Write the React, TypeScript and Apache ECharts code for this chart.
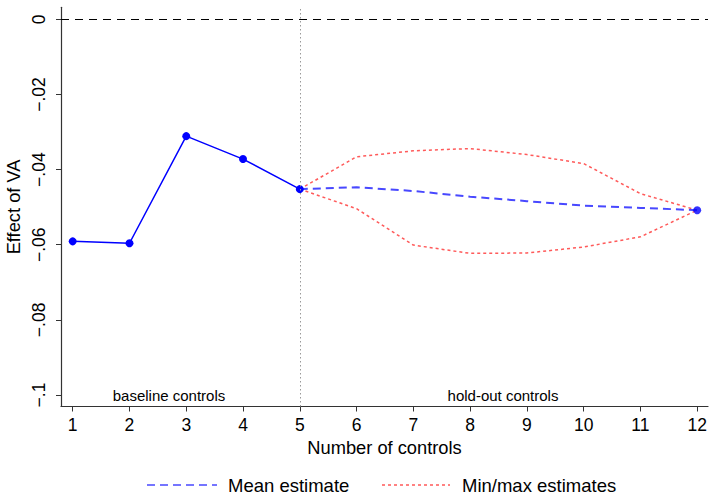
import React, { useEffect, useRef } from "react";
import * as echarts from "echarts";

const xTicks = [1, 2, 3, 4, 5, 6, 7, 8, 9, 10, 11, 12];
const yTicks = [0, -0.02, -0.04, -0.06, -0.08, -0.1];

const baselineX = [1, 2, 3, 4, 5];
const baselineY = [-0.0591, -0.0596, -0.0311, -0.0372, -0.0452];

const holdoutX = [5, 6, 7, 8, 9, 10, 11, 12];
const meanY = [-0.0452, -0.0447, -0.0457, -0.0472, -0.0484, -0.0496, -0.0502, -0.0508];
const maxY = [-0.0452, -0.0366, -0.035, -0.0344, -0.036, -0.0384, -0.0464, -0.0508];
const minY = [-0.0452, -0.0504, -0.0601, -0.0623, -0.0622, -0.0606, -0.0579, -0.0508];

const FONT = "Liberation Sans, Arial, sans-serif";

function pairs(xs: number[], ys: number[]) {
  return xs.map((x, i) => [x, ys[i]]);
}

function fmtY(v: number) {
  if (Math.abs(v) < 1e-12) return "0";
  const s = String(Math.round(Math.abs(v) * 1000) / 1000).replace(/^0/, "");
  return (v < 0 ? "\u2212" : "") + s;
}

export default function App() {
  const ref = useRef<HTMLDivElement>(null);
  useEffect(() => {
    document.body.style.margin = "0";
    if (!ref.current) return;
    const chart = echarts.init(ref.current, null, { renderer: "svg" });
    const blue = "#0000ff";
    const meanBlue = "#4848ff";
    const red = "#ff5a5a";
    chart.setOption({
      animation: false,
      backgroundColor: "#ffffff",
      textStyle: { fontFamily: FONT },
      grid: { left: 61, right: 2, top: 7.3, bottom: 87.5, containLabel: false, outerBoundsMode: "none" },
      xAxis: {
        type: "value",
        min: 0.794,
        max: 12.19,
        name: "Number of controls",
        nameLocation: "middle",
        nameGap: 31,
        nameTextStyle: { fontSize: 18.3, color: "#000", fontFamily: FONT },
        axisLine: { show: true, onZero: false, lineStyle: { color: "#333", width: 1.2 } },
        axisTick: { show: true, length: 5, lineStyle: { color: "#333" }, customValues: xTicks },
        axisLabel: {
          customValues: xTicks,
          fontSize: 17.5,
          color: "#000",
          margin: 9,
          fontFamily: FONT,
        },
        splitLine: { show: false },
      },
      yAxis: {
        type: "value",
        min: -0.10306,
        max: 0.0032,
        name: "Effect of VA",
        nameLocation: "middle",
        nameGap: 32,
        nameTextStyle: { fontSize: 18.3, color: "#000", fontFamily: FONT },
        axisLine: { show: true, onZero: false, lineStyle: { color: "#333", width: 1.2 } },
        axisTick: { show: true, length: 5, lineStyle: { color: "#333" }, customValues: yTicks },
        axisLabel: {
          customValues: yTicks,
          rotate: 90,
          fontSize: 17.5,
          color: "#000",
          margin: 13,
          fontFamily: FONT,
          formatter: (v: number) => fmtY(v),
        },
        splitLine: { show: false },
      },
      series: [
        {
          type: "line",
          data: pairs(holdoutX, maxY),
          showSymbol: false,
          lineStyle: { color: red, width: 1.5, type: [3, 3] },
          z: 2,
          markLine: {
            silent: true,
            symbol: "none",
            label: { show: false },
            data: [
              { xAxis: 5, lineStyle: { color: "#999", type: [1.5, 2.5], width: 1 } },
              { yAxis: 0, lineStyle: { color: "#000", type: [8, 6], width: 1 } },
            ],
          },
        },
        {
          type: "line",
          data: pairs(holdoutX, minY),
          showSymbol: false,
          lineStyle: { color: red, width: 1.5, type: [3, 3] },
          z: 2,
        },
        {
          type: "line",
          data: pairs(holdoutX, meanY),
          showSymbol: false,
          lineStyle: { color: meanBlue, width: 2, type: [8, 5] },
          z: 3,
        },
        {
          type: "line",
          data: pairs(baselineX, baselineY),
          symbol: "circle",
          symbolSize: 8,
          itemStyle: { color: blue },
          lineStyle: { color: blue, width: 1.5 },
          z: 4,
        },
        {
          type: "scatter",
          data: [[holdoutX[holdoutX.length - 1], meanY[meanY.length - 1]]],
          symbol: "circle",
          symbolSize: 8,
          itemStyle: { color: blue },
          z: 4,
        },
      ],
      graphic: [
        {
          type: "text",
          x: 169,
          y: 395,
          style: { text: "baseline controls", fontSize: 15, fill: "#000", align: "center", verticalAlign: "middle", fontFamily: FONT },
        },
        {
          type: "text",
          x: 503,
          y: 395,
          style: { text: "hold-out controls", fontSize: 15, fill: "#000", align: "center", verticalAlign: "middle", fontFamily: FONT },
        },
        {
          type: "line",
          shape: { x1: 147, y1: 485, x2: 217, y2: 485 },
          style: { stroke: meanBlue, lineWidth: 1.6, lineDash: [8, 5] },
        },
        {
          type: "text",
          x: 228,
          y: 485,
          style: { text: "Mean estimate", fontSize: 18.5, fill: "#000", align: "left", verticalAlign: "middle", fontFamily: FONT },
        },
        {
          type: "line",
          shape: { x1: 382, y1: 485, x2: 450, y2: 485 },
          style: { stroke: red, lineWidth: 1.3, lineDash: [3, 3] },
        },
        {
          type: "text",
          x: 462,
          y: 485,
          style: { text: "Min/max estimates", fontSize: 18.5, fill: "#000", align: "left", verticalAlign: "middle", fontFamily: FONT },
        },
      ],
    });
    return () => chart.dispose();
  }, []);
  return <div ref={ref} style={{ width: 710, height: 494 }} />;
}
